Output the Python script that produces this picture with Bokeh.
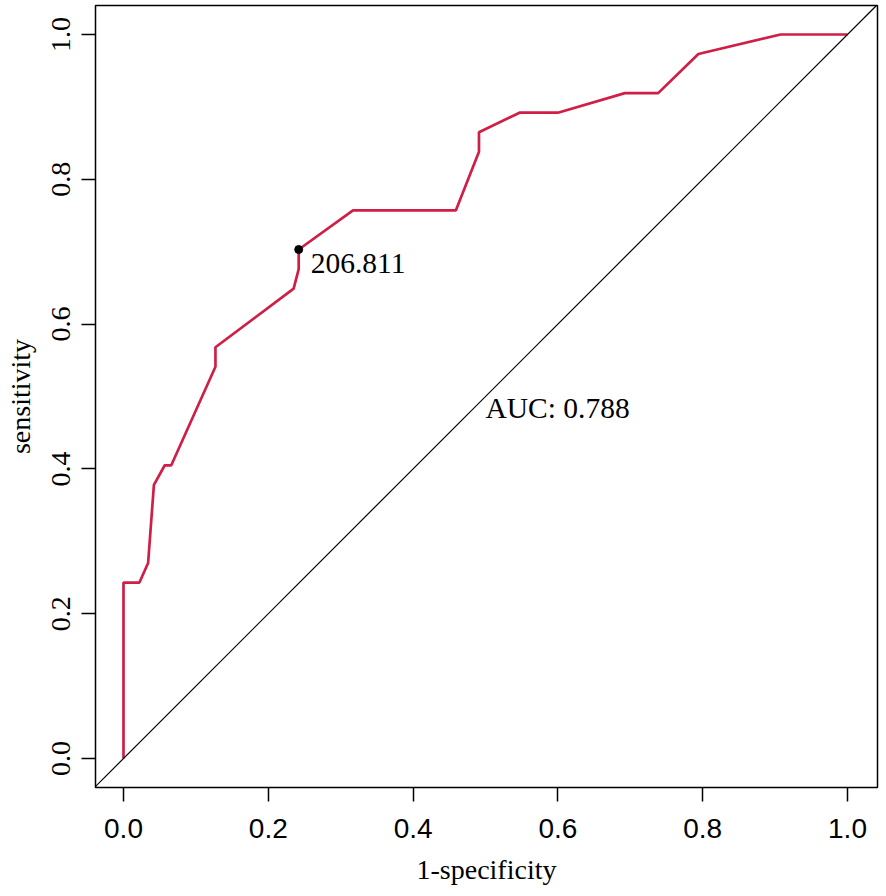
from bokeh.plotting import figure
from bokeh.models import Range1d, FixedTicker, Slope
from bokeh.core.properties import value
from bokeh.embed import file_html
from bokeh.resources import INLINE

# ROC curve data (1-specificity, sensitivity)
fpr = [0.0, 0.0, 0.022, 0.034, 0.042, 0.057, 0.066, 0.127, 0.127, 0.235, 0.242,
       0.242, 0.317, 0.459, 0.491, 0.491, 0.547, 0.600, 0.6925, 0.7385, 0.794,
       0.9075, 1.0]
tpr = [0.0, 0.243, 0.243, 0.270, 0.378, 0.405, 0.405, 0.541, 0.568, 0.649, 0.676,
       0.703, 0.757, 0.757, 0.838, 0.865, 0.892, 0.892, 0.919, 0.919, 0.973,
       1.0, 1.0]

thr_x = [0.242]
thr_y = [0.703]
thr_label = ["206.811"]

auc_x = [0.5]
auc_y = [0.5]
auc_label = ["AUC: 0.788"]

tick_values = [0.0, 0.2, 0.4, 0.6, 0.8, 1.0]
tick_labels = ["0.0", "0.2", "0.4", "0.6", "0.8", "1.0"]

RED = "#CF1F47"
SERIF = "Liberation Serif"
SANS = "Liberation Sans"
FS = "28px"
FS_ANN = "29.5px"

p = figure(width=886, height=896, output_backend="svg", toolbar_location=None,
           x_range=Range1d(-0.03867, 1.04144), y_range=Range1d(-0.04006, 1.04006),
           min_border_left=95, min_border_right=9, min_border_top=5,
           min_border_bottom=109)
p.grid.visible = False
p.outline_line_color = "black"
p.outline_line_width = 1.5
p.background_fill_color = "white"
p.border_fill_color = "white"

overrides = {v: s for v, s in zip(tick_values, tick_labels)}
for ax in (p.xaxis[0], p.yaxis[0]):
    ax.ticker = FixedTicker(ticks=tick_values)
    ax.major_label_overrides = overrides
    ax.axis_line_color = None
    ax.major_tick_out = 14
    ax.major_tick_in = 0
    ax.minor_tick_out = 0
    ax.minor_tick_in = 0
    ax.major_tick_line_color = "black"
    ax.major_tick_line_width = 1.5
    ax.major_label_text_font_size = FS
    ax.major_label_text_color = "black"
    ax.axis_label_text_font = SERIF
    ax.axis_label_text_font_size = FS
    ax.axis_label_text_font_style = "normal"
    ax.axis_label_text_color = "black"

p.xaxis.axis_label = "1-specificity"
p.xaxis.major_label_text_font = SANS
p.xaxis.major_label_standoff = 17
p.xaxis.axis_label_standoff = 13

p.yaxis.axis_label = "sensitivity"
p.yaxis.major_label_text_font = SERIF
p.yaxis.major_label_orientation = "vertical"
p.yaxis.major_label_standoff = 11
p.yaxis.axis_label_standoff = 14

p.add_layout(Slope(gradient=1, y_intercept=0, line_color="black", line_width=1.2))
p.line(fpr, tpr, line_color=RED, line_width=2.7)
p.scatter(thr_x, thr_y, size=8, color="black")
p.text(thr_x, thr_y, text=thr_label, text_font=value(SERIF), text_font_size=FS_ANN,
       text_align="left", text_baseline="top", x_offset=12, y_offset=4,
       text_color="black")
p.text(auc_x, auc_y, text=auc_label, text_font=value(SERIF), text_font_size=FS_ANN,
       text_align="left", text_baseline="top", x_offset=0, y_offset=-5,
       text_color="black")

open("out.html", "w").write(file_html(p, INLINE))
